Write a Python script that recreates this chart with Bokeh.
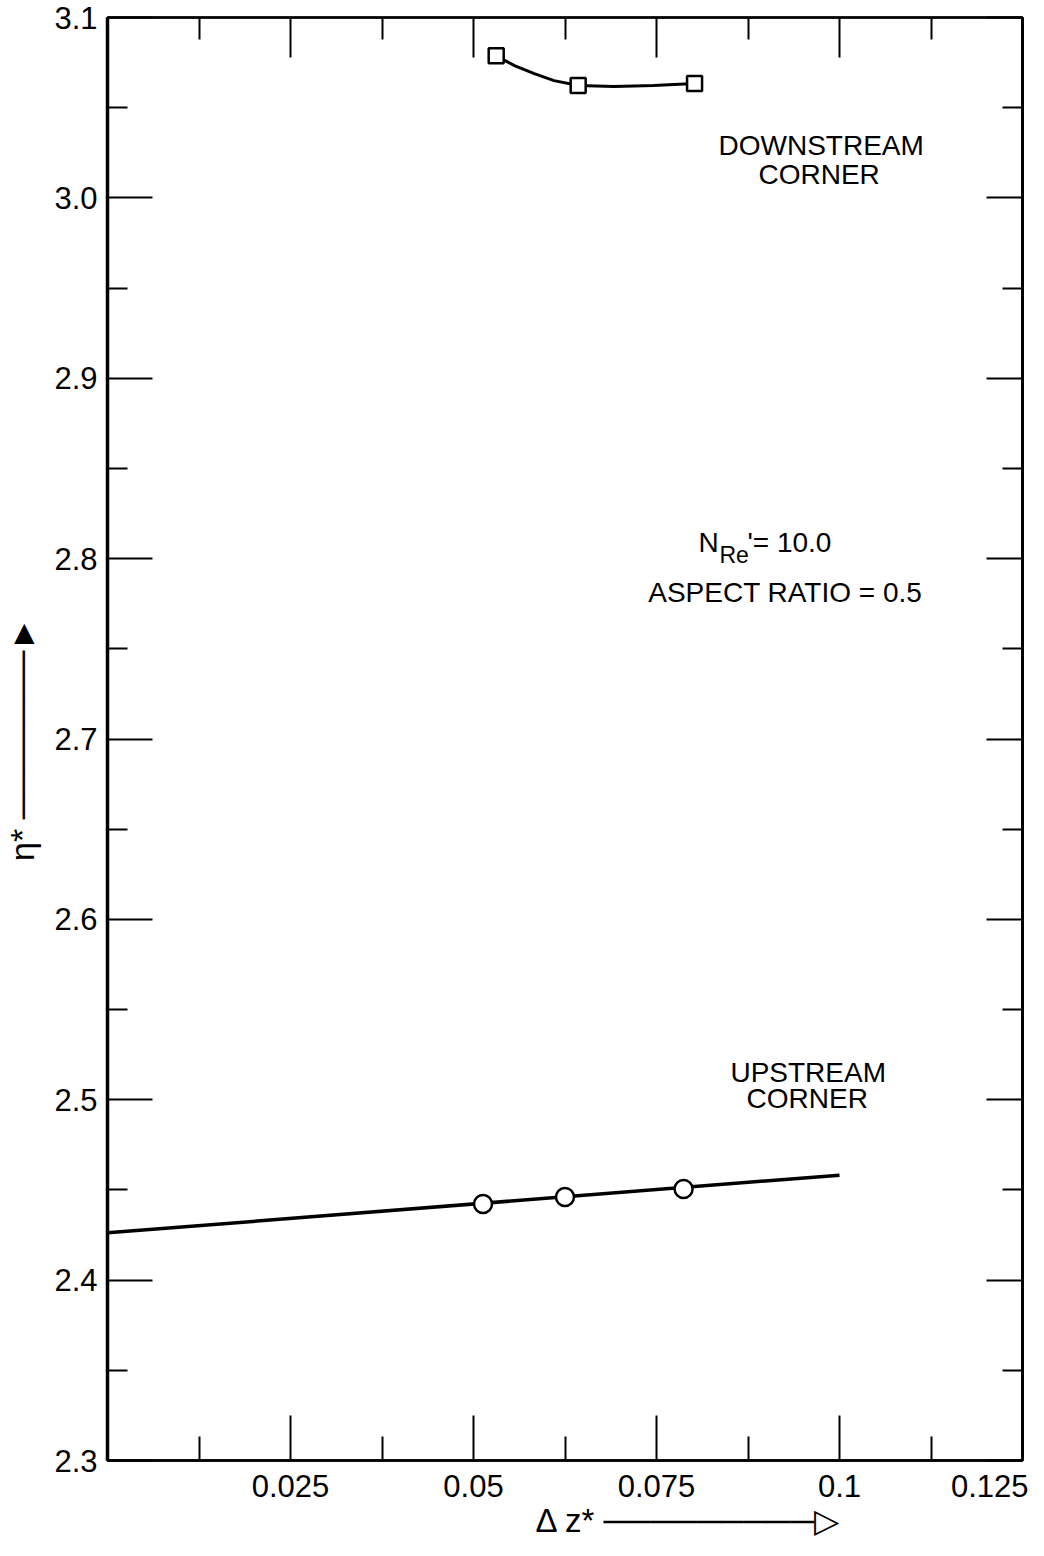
from bokeh.plotting import figure
from bokeh.models import (Range1d, FixedTicker, LinearAxis, Label, Title,
                          CustomJSTickFormatter, PrintfTickFormatter)
from bokeh.embed import file_html
from bokeh.resources import INLINE

# ---- data ----
down_x = [0.0531, 0.0643, 0.0802]
down_y = [3.0788, 3.0623, 3.0634]
down_curve_x = [0.0531, 0.0556, 0.0583, 0.0610, 0.0643, 0.0692, 0.0746, 0.0802]
down_curve_y = [3.0788, 3.0733, 3.0689, 3.0650, 3.0623, 3.0617, 3.0623, 3.0634]

up_x = [0.0513, 0.0625, 0.0787]
up_y = [2.4422, 2.4461, 2.4505]
up_line_x = [0.0, 0.1]
up_line_y = [2.4262, 2.4582]

x_ticks = [0.025, 0.05, 0.075, 0.1, 0.125]
x_minor = [0.0125, 0.0375, 0.0625, 0.0875, 0.1125]
y_ticks = [2.3, 2.4, 2.5, 2.6, 2.7, 2.8, 2.9, 3.0, 3.1]
y_minor = [2.35, 2.45, 2.55, 2.65, 2.75, 2.85, 2.95, 3.05]

FONT = "Liberation Sans"

p = figure(width=1028, height=1540, output_backend="svg", toolbar_location=None,
           x_range=Range1d(0, 0.125), y_range=Range1d(2.3, 3.1),
           min_border_left=104, min_border_right=6, min_border_top=17, min_border_bottom=80)
p.xgrid.visible = False
p.ygrid.visible = False
p.outline_line_color = "black"
p.outline_line_width = 2.5
p.background_fill_color = "white"
p.border_fill_color = "white"

xt = FixedTicker(ticks=x_ticks, minor_ticks=x_minor)
yt = FixedTicker(ticks=y_ticks, minor_ticks=y_minor)

def style(ax, maj, mnr, width):
    ax.major_tick_in = maj
    ax.major_tick_out = 0
    ax.minor_tick_in = mnr
    ax.minor_tick_out = 0
    ax.major_tick_line_width = 2
    ax.minor_tick_line_width = 2
    ax.axis_line_width = width
    ax.axis_line_color = "black"
    ax.major_tick_line_color = "black"
    ax.minor_tick_line_color = "black"
    ax.major_label_text_font = FONT
    ax.major_label_text_font_size = "31px"
    ax.major_label_text_color = "black"

xa = p.xaxis[0]
xa.ticker = xt
style(xa, 45, 24, 2.5)
xa.major_label_standoff = 14

ya = p.yaxis[0]
ya.ticker = yt
ya.formatter = PrintfTickFormatter(format="%.1f")
style(ya, 45, 20, 3.5)
ya.major_label_standoff = 10
ya.axis_label = "\u03b7* \u2500\u2500\u2500\u2500\u2500\u2500\u2500\u25ba"
ya.axis_label_text_font = FONT
ya.axis_label_text_font_size = "34px"
ya.axis_label_text_font_style = "normal"
ya.axis_label_text_color = "black"
ya.axis_label_standoff = 10

blank = CustomJSTickFormatter(code="return ''")
ra = LinearAxis(ticker=yt, formatter=blank)
style(ra, 36, 20, 3)
ra.major_label_standoff = 0
p.add_layout(ra, "right")
ta = LinearAxis(ticker=xt, formatter=blank)
style(ta, 40, 22, 2)
ta.major_label_standoff = 0
p.add_layout(ta, "above")

# x-axis title with arrow, placed right of centre as in the original
xt_title = Title(text="\u0394 z* \u2500\u2500\u2500\u2500\u2500\u2500\u2500\u2500\u2500\u25b7",
                 align="left", offset=428, standoff=0, text_font=FONT,
                 text_font_size="33px", text_font_style="normal", text_color="black")
p.add_layout(xt_title, "below")

# ---- downstream ----
p.line(down_curve_x, down_curve_y, line_color="black", line_width=3)
p.scatter(down_x, down_y, marker="square", size=15, fill_color="white",
          line_color="black", line_width=2.5)

# ---- upstream ----
p.line(up_line_x, up_line_y, line_color="black", line_width=3.5)
p.scatter(up_x, up_y, marker="circle", size=18, fill_color="white",
          line_color="black", line_width=2.5)

def px_x(px):
    return (px - 112) / 7344.0

def px_y(py):
    return 2.3 + (1461 - py) / 1814.0

def lab(txt, cx, cy, size="28px", align="center"):
    p.add_layout(Label(x=px_x(cx), y=px_y(cy), text=txt, text_font=FONT,
                       text_font_size=size, text_align=align, text_baseline="middle",
                       text_color="black"))

lab("DOWNSTREAM", 828, 139)
lab("CORNER", 826, 168)
lab("UPSTREAM", 815, 1071)
lab("CORNER", 814, 1097)
lab("ASPECT RATIO = 0.5", 792, 588)
# N_Re' = 10.0
lab("N", 705, 538, align="left")
lab("Re", 726, 550, size="23px", align="left")
lab("'= 10.0", 754, 538, align="left")

open("out.html", "w").write(file_html(p, INLINE))
